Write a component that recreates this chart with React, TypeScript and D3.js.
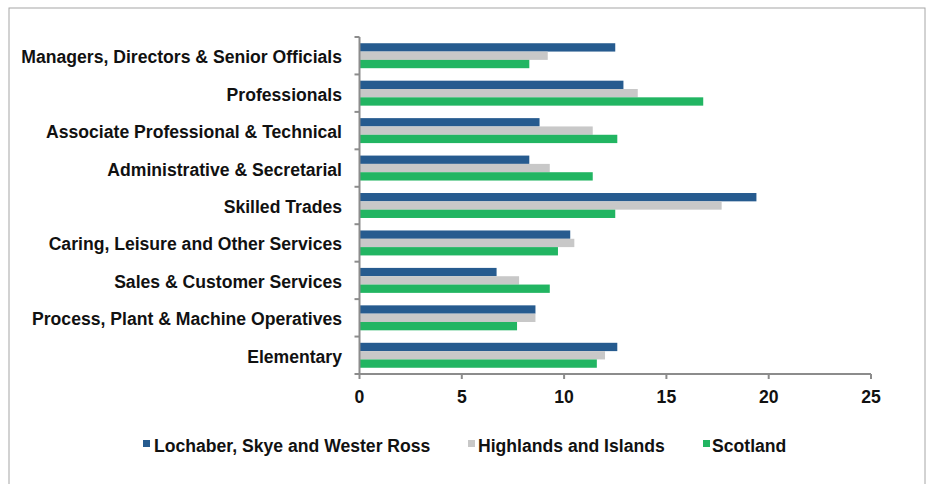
import React from "react";
import * as d3 from "d3";

const categories = [
  "Managers, Directors & Senior Officials",
  "Professionals",
  "Associate Professional & Technical",
  "Administrative & Secretarial",
  "Skilled Trades",
  "Caring, Leisure and Other Services",
  "Sales & Customer Services",
  "Process, Plant & Machine Operatives",
  "Elementary",
];
const seriesNames = ["Lochaber, Skye and Wester Ross", "Highlands and Islands", "Scotland"];
const lochaber = [12.5, 12.9, 8.8, 8.3, 19.4, 10.3, 6.7, 8.6, 12.6];
const highlands = [9.2, 13.6, 11.4, 9.3, 17.7, 10.5, 7.8, 8.6, 12.0];
const scotland = [8.3, 16.8, 12.6, 11.4, 12.5, 9.7, 9.3, 7.7, 11.6];
const xTicks = [0, 5, 10, 15, 20, 25];
const colors = ["#265b8f", "#c8c8c8", "#22b562"];

export default function App() {
  const W = 930, H = 484;
  const x = d3.scaleLinear().domain([0, 25]).range([359.5, 871]);
  const y = d3.scaleBand<string>().domain(categories).range([37, 374]);
  const inner = d3
    .scaleBand<string>()
    .domain(seriesNames)
    .range([0, y.step()])
    .paddingInner(0)
    .paddingOuter(0.75);
  const allSeries = [lochaber, highlands, scotland];
  const font = "'Liberation Sans', Arial, sans-serif";
  const axisColor = "#8c8c8c";
  const [r0, r1] = y.range();
  const tickYs = categories.map((c) => y(c) as number).concat([r1]);
  const fs = 17.6;
  const legendItems = [
    { name: seriesNames[0], sq: 143, tx: 154 },
    { name: seriesNames[1], sq: 468, tx: 478 },
    { name: seriesNames[2], sq: 703, tx: 712 },
  ];

  return (
    <svg
      width={W}
      height={H}
      style={{ position: "absolute", left: 0, top: 0, background: "#fff" }}
      fontFamily={font}
    >
      <rect x={9} y={8} width={916} height={H + 10} fill="#fff" stroke="#a6a6a6" strokeWidth={1} />
      {/* bars */}
      {allSeries.map((vals, si) =>
        vals.map((v, i) => (
          <rect
            key={`${si}-${i}`}
            x={x(0)}
            y={(y(categories[i]) as number) + (inner(seriesNames[si]) as number)}
            width={x(v) - x(0)}
            height={inner.bandwidth()}
            fill={colors[si]}
          />
        ))
      )}
      {/* y axis */}
      <line x1={x(0)} x2={x(0)} y1={r0} y2={r1} stroke={axisColor} strokeWidth={2} />
      {tickYs.map((ty, i) => (
        <line key={i} x1={x(0) - 5} x2={x(0)} y1={ty} y2={ty} stroke={axisColor} strokeWidth={2} />
      ))}
      {categories.map((c) => (
        <text
          key={c}
          x={342}
          y={(y(c) as number) + y.bandwidth() / 2 + 1.5}
          textAnchor="end"
          dominantBaseline="central"
          fontSize={fs}
          fontWeight="bold"
          fill="#111"
        >
          {c}
        </text>
      ))}
      {/* x axis */}
      <line x1={x(0) - 1} x2={x(25)} y1={r1} y2={r1} stroke={axisColor} strokeWidth={2} />
      {xTicks.map((t) => (
        <g key={t}>
          <line x1={x(t)} x2={x(t)} y1={r1} y2={r1 + 5} stroke={axisColor} strokeWidth={2} />
          <text
            x={x(t)}
            y={r1 + 23}
            textAnchor="middle"
            dominantBaseline="central"
            fontSize={fs}
            fontWeight="bold"
            fill="#111"
          >
            {t}
          </text>
        </g>
      ))}
      {/* legend */}
      {legendItems.map((l, i) => (
        <g key={l.name}>
          <rect x={l.sq} y={440} width={7} height={7} fill={colors[i]} />
          <text x={l.tx} y={446} dominantBaseline="central" fontSize={fs} fontWeight="bold" fill="#111">
            {l.name}
          </text>
        </g>
      ))}
    </svg>
  );
}
